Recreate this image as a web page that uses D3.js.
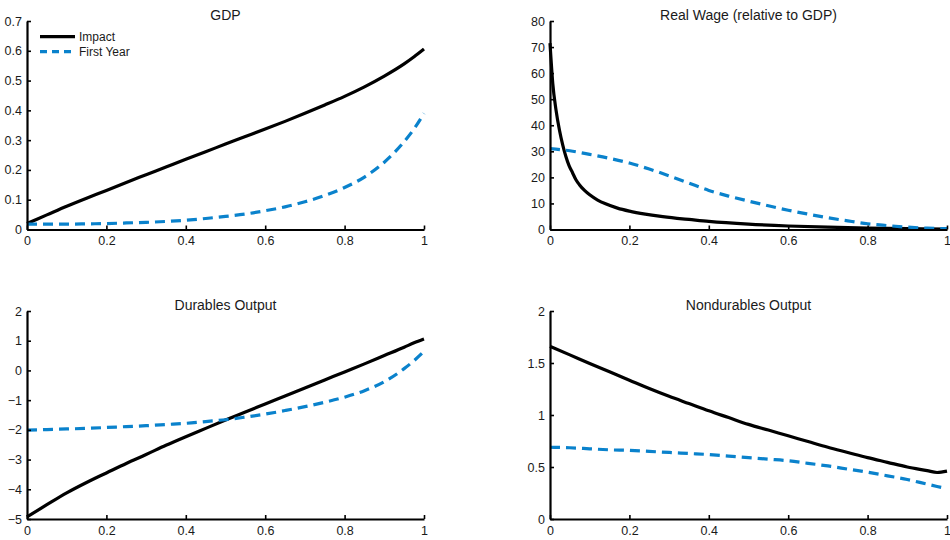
<!DOCTYPE html>
<html>
<head>
<meta charset="utf-8">
<script src="https://cdn.jsdelivr.net/npm/d3@7"></script>
<style>
  body { margin: 0; background: #fff; }
  svg { display: block; }
  text { font-family: "Liberation Sans", Arial, Helvetica, sans-serif; fill: #1a1a1a; }
</style>
</head>
<body>
<svg id="chart" width="950" height="540"></svg>
<script>
// Shared horizontal grid (share parameter from 0 to 1)
const shareGrid = [0, 0.05, 0.1, 0.15, 0.2, 0.25, 0.3, 0.35, 0.4, 0.45, 0.5,
                   0.55, 0.6, 0.65, 0.7, 0.75, 0.8, 0.85, 0.9, 0.95, 0.975, 1];

// GDP responses
const gdpImpact    = [0.020, 0.049, 0.078, 0.105, 0.131, 0.158, 0.184, 0.210, 0.236, 0.261, 0.287,
                      0.312, 0.337, 0.363, 0.390, 0.418, 0.447, 0.479, 0.515, 0.556, 0.580, 0.606];
const gdpFirstYear = [0.018, 0.018, 0.018, 0.019, 0.020, 0.022, 0.024, 0.027, 0.031, 0.037, 0.044,
                      0.052, 0.063, 0.076, 0.093, 0.114, 0.141, 0.176, 0.226, 0.295, 0.338, 0.390];

// Real wage (relative to GDP): the impact curve needs a finer grid near zero
const realWageGrid   = [0, 0.007, 0.015, 0.024, 0.032, 0.04, 0.048, 0.057, 0.065, 0.074, 0.087,
                        0.1, 0.12, 0.14, 0.17, 0.2, 0.24, 0.275, 0.32, 0.35, 0.4,
                        0.5, 0.6, 0.7, 0.8, 0.9, 1];
const realWageImpact = [71.5, 56, 46, 38, 32.5, 28, 24.5, 21.7, 19.2, 17.2, 15.0,
                        13.3, 11.3, 9.85, 8.2, 7.05, 5.9, 5.1, 4.3, 3.85, 3.1,
                        2.05, 1.35, 0.88, 0.55, 0.35, 0.2];
const realWageFirstYear = [31, 30.2, 28.8, 27.3, 25.5, 23.2, 20.6, 17.8, 15.0, 12.8, 10.9,
                           9.1, 7.4, 5.9, 4.5, 3.3, 2.2, 1.5, 0.9, 0.5, 0.4, 0.3];

// Durables output
const durablesImpact    = [-4.93, -4.52, -4.12, -3.77, -3.45, -3.13, -2.83, -2.52, -2.23, -1.95, -1.67,
                           -1.40, -1.13, -0.86, -0.59, -0.32, -0.05, 0.22, 0.50, 0.78, 0.93, 1.06];
const durablesFirstYear = [-2.01, -1.99, -1.97, -1.95, -1.92, -1.89, -1.86, -1.82, -1.78, -1.72, -1.66,
                           -1.57, -1.47, -1.35, -1.22, -1.07, -0.90, -0.68, -0.38, 0.06, 0.33, 0.64];

// Nondurables output
const nondurablesImpact    = [1.660, 1.578, 1.495, 1.415, 1.335, 1.255, 1.180, 1.110, 1.040, 0.975, 0.910,
                              0.855, 0.800, 0.745, 0.690, 0.640, 0.590, 0.545, 0.500, 0.465, 0.447, 0.460];
const nondurablesFirstYear = [0.690, 0.685, 0.675, 0.665, 0.660, 0.650, 0.640, 0.630, 0.620, 0.605, 0.590,
                              0.575, 0.560, 0.535, 0.510, 0.480, 0.450, 0.415, 0.380, 0.335, 0.313, 0.290];

// Tick values
const xTicks           = [0, 0.2, 0.4, 0.6, 0.8, 1];
const gdpTicks         = [0, 0.1, 0.2, 0.3, 0.4, 0.5, 0.6, 0.7];
const realWageTicks    = [0, 10, 20, 30, 40, 50, 60, 70, 80];
const durablesTicks    = [-5, -4, -3, -2, -1, 0, 1, 2];
const nondurablesTicks = [0, 0.5, 1, 1.5, 2];

const seriesNames = ["Impact", "First Year"];

const BLUE = "#0a82cc";
const styles = [
  { stroke: "#000", dash: null },
  { stroke: BLUE, dash: "10,6" }
];

const panels = [
  { title: "GDP", xr: [27, 424], yr: [229.5, 21], yd: [0, 0.7], yt: gdpTicks, titleY: 20,
    lines: [[shareGrid, gdpImpact], [shareGrid, gdpFirstYear]], legend: true },
  { title: "Real Wage (relative to GDP)", xr: [550, 947], yr: [229.5, 21], yd: [0, 80], yt: realWageTicks, titleY: 20,
    lines: [[realWageGrid, realWageImpact], [shareGrid, realWageFirstYear]] },
  { title: "Durables Output", xr: [27, 424], yr: [519, 311], yd: [-5, 2], yt: durablesTicks, titleY: 310,
    lines: [[shareGrid, durablesImpact], [shareGrid, durablesFirstYear]] },
  { title: "Nondurables Output", xr: [550, 947], yr: [519, 311], yd: [0, 2], yt: nondurablesTicks, titleY: 310,
    lines: [[shareGrid, nondurablesImpact], [shareGrid, nondurablesFirstYear]] }
];

const svg = d3.select("#chart");
const fmt = d3.format("~g");

panels.forEach(p => {
  const x = d3.scaleLinear().domain([0, 1]).range(p.xr);
  const y = d3.scaleLinear().domain(p.yd).range(p.yr);
  const g = svg.append("g");

  // Curves
  p.lines.forEach(([xs, ys], i) => {
    const pts = xs.map((v, k) => [v, ys[k]]);
    const line = d3.line().x(d => x(d[0])).y(d => y(d[1])).curve(d3.curveMonotoneX);
    g.append("path")
      .attr("d", line(pts))
      .attr("fill", "none")
      .attr("stroke", styles[i].stroke)
      .attr("stroke-width", 3.2)
      .attr("stroke-dasharray", styles[i].dash)
      .attr("stroke-linejoin", "round");
  });

  // Axes (ticks pointing inward)
  const xAxis = d3.axisBottom(x).tickValues(xTicks).tickFormat(fmt)
    .tickSizeInner(-4).tickSizeOuter(0).tickPadding(7);
  const yAxis = d3.axisLeft(y).tickValues(p.yt).tickFormat(fmt)
    .tickSizeInner(-4).tickSizeOuter(0).tickPadding(5);

  const gx = g.append("g").attr("transform", `translate(0,${p.yr[0]})`).call(xAxis);
  const gy = g.append("g").attr("transform", `translate(${p.xr[0]},0)`).call(yAxis);
  [gx, gy].forEach(a => {
    a.select(".domain").attr("stroke", "#000").attr("stroke-width", 2.2);
    a.selectAll(".tick line").attr("stroke", "#000").attr("stroke-width", 1.6);
    a.selectAll(".tick text").attr("font-size", 12.5).attr("fill", "#1a1a1a")
      .style("font-family", '"Liberation Sans", Arial, Helvetica, sans-serif');
  });

  // Title
  g.append("text")
    .attr("x", (p.xr[0] + p.xr[1]) / 2)
    .attr("y", p.titleY)
    .attr("text-anchor", "middle")
    .attr("font-size", 14)
    .text(p.title);

  // Legend
  if (p.legend) {
    const lg = g.append("g");
    seriesNames.forEach((name, i) => {
      const ly = 36.7 + i * 15;
      lg.append("line")
        .attr("x1", 40).attr("x2", 75).attr("y1", ly).attr("y2", ly)
        .attr("stroke", styles[i].stroke)
        .attr("stroke-width", 3.2)
        .attr("stroke-dasharray", i ? "7,5" : null);
      lg.append("text")
        .attr("x", 79).attr("y", ly + 4.5)
        .attr("font-size", 12)
        .text(name);
    });
  }
});
</script>
</body>
</html>
